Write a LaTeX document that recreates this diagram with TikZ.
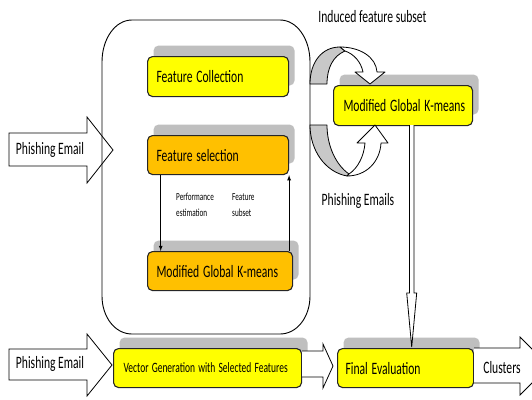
\documentclass[tikz,border=0pt]{standalone}
\usepackage{fontspec}
\setmainfont{Carlito}
\usetikzlibrary{shadows}
\definecolor{ylw}{HTML}{FFFF00}
\definecolor{orng}{HTML}{FFC000}
\definecolor{shd}{HTML}{BFBFBF}
\definecolor{ringgray}{HTML}{C8C8C8}
\newcommand{\stx}[1]{\scalebox{1}[1.5]{#1}}
\begin{document}
\begin{tikzpicture}[x=1pt,y=-1pt,
  boxnode/.style={draw=black!85, line width=1.1pt, rounded corners=5pt, anchor=north west,
    minimum height=39pt, inner xsep=9pt, inner ysep=0pt, align=left,
    font=\fontsize{11.6}{13}\selectfont,
    drop shadow={shadow xshift=6pt, shadow yshift=11pt, fill=shd, opacity=1, draw=none}},
  lbl/.style={inner sep=0pt, font=\fontsize{11.6}{13}\selectfont},
  small/.style={inner sep=0pt, anchor=west, font=\fontsize{7.2}{10.7}\selectfont},
  blockarrow/.style={draw=black, line width=0.8pt, fill=white, line join=miter},
  ring/.style={draw=black, line width=0.8pt, line join=round},
  thin/.style={draw=black, line width=0.8pt, -latex}
]
\useasboundingbox (0,0) rectangle (532,399);
\clip (0,0) rectangle (532,399);

% block arrows (drawn below the big frame)
\draw[blockarrow] (9,133) -- (87,133) -- (87,117) -- (113,150) -- (87,183) -- (87,166) -- (9,166) -- cycle;
\node[lbl] (pe1) at (50,150) {\stx{Phishing Email}};
\draw[blockarrow] (9,349) -- (87,349) -- (87,334) -- (112,365) -- (87,396) -- (87,380) -- (9,380) -- cycle;
\node[lbl] (pe2) at (50,364) {\stx{Phishing Email}};

% big rounded frame
\draw[line width=0.9pt] (132,20) -- (280,20) .. controls (297,20) and (310,39) .. (310,62)
  -- (310,296) .. controls (310,317) and (297,334) .. (280,334)
  -- (132,334) .. controls (115,334) and (102,317) .. (102,296)
  -- (102,62) .. controls (102,39) and (115,20) .. (132,20) -- cycle;

% boxes
\node[boxnode, fill=ylw, text width=123pt, minimum height=40pt] (fc) at (147,56) {\stx{Feature Collection}};
\node[boxnode, fill=orng, text width=123pt] (fs) at (147,135) {\stx{Feature selection}};
\node[boxnode, fill=orng, text width=127pt] (mk1) at (147,251) {\stx{Modified Global K-means}};
\node[boxnode, fill=ylw, text width=121pt, minimum height=40pt, inner xsep=10pt, text width=119pt] (mk2) at (333,85) {\stx{Modified Global K-means}};
\node[boxnode, fill=ylw, text width=168pt, inner xsep=10pt, font=\fontsize{9.5}{11}\selectfont] (vg) at (113,348) {\stx{Vector Generation with Selected Features}};
\node[boxnode, fill=ylw, text width=120pt, inner xsep=8pt] (fe) at (337,348) {\stx{Final Evaluation}};

% inner loop arrows
\draw[thin] ([xshift=13.7pt]fs.south west) -- ([xshift=13.7pt]mk1.north west);
\draw[thin] ([xshift=-4pt]mk1.north east) -- (fs.south east);
\node[small] (perf) at (176,205) {\stx{\begin{tabular}{@{}l@{}}Performance\\estimation\end{tabular}}};
\node[small] (fsub) at (232,205) {\stx{\begin{tabular}{@{}l@{}}Feature\\subset\end{tabular}}};

% circular arrows
\draw[ring, fill=ringgray] (310,84) .. controls (310,62) and (322,47) .. (340,47) -- (345,51)
  .. controls (333,56) and (327,68) .. (327,84) -- cycle;
\draw[ring, fill=white] (340,47) .. controls (360,47) and (376,57) .. (377,72) -- (385,72) -- (370,84)
  -- (355,72) -- (363,72) .. controls (361,62) and (354,54) .. (345,51) -- cycle;
\draw[ring, fill=ringgray] (310,125) -- (327,125) .. controls (327,146) and (336,165) .. (349,174)
  -- (347,176) .. controls (325,172) and (310,150) .. (310,125) -- cycle;
\draw[ring, fill=white] (347,176) .. controls (366,176) and (380,162) .. (381,143) -- (388,143) -- (375,125)
  -- (357,143) -- (365,143) .. controls (364,156) and (358,168) .. (349,174) -- cycle;
\node[lbl] (ifs) at (372.5,17) {\stx{Induced feature subset}};

% vertical hollow arrow
\draw[blockarrow] (409.5,125) -- (409.5,293) -- (406.7,293) -- (411.7,347) -- (416.7,293) -- (414,293) -- (414,125);
\node[lbl] (pes) at (358,201) {\stx{Phishing Emails}};

% bottom arrows
\draw[blockarrow] (vg.east |- 0,351) -- (323,351) -- (323,344) -- (333,366) -- (323,388) -- (323,377) -- (vg.east |- 0,377);
\draw[blockarrow] (fe.east |- 0,348) -- (520,348) -- (520,337) -- (549,366) -- (520,395) -- (520,383) -- (fe.east |- 0,383);
\node[lbl] (cl) at (502,368) {\stx{Clusters}};
\end{tikzpicture}
\end{document}
